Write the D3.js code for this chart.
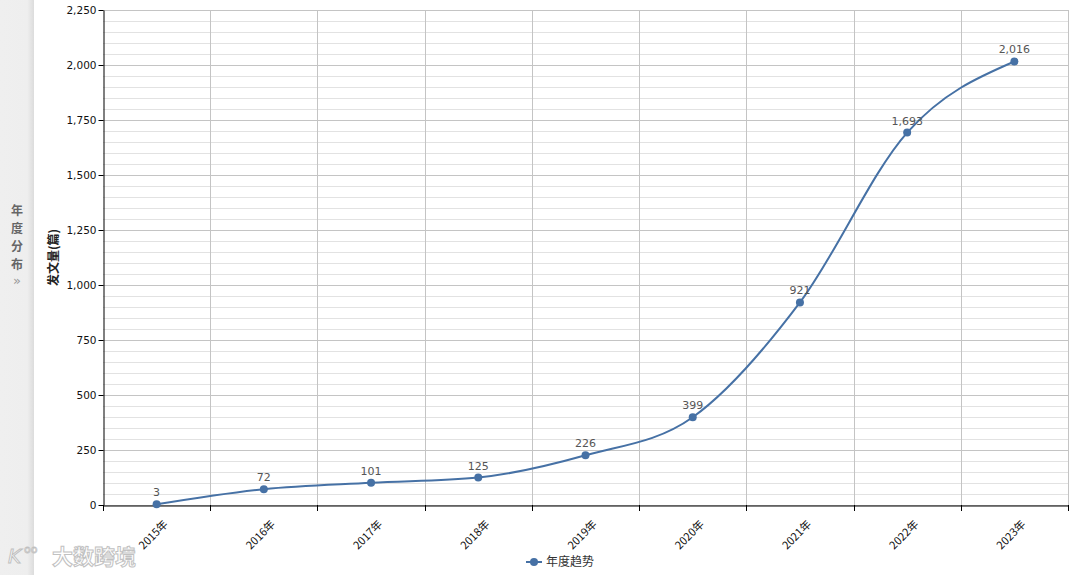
<!DOCTYPE html>
<html>
<head>
<meta charset="utf-8">
<script src="https://cdn.jsdelivr.net/npm/d3@7"></script>
<style>
  body { margin: 0; background: #fff; }
  svg { display: block; }
</style>
</head>
<body>
<div id="chart"></div>
<script>
// data
var years = ["2015年", "2016年", "2017年", "2018年", "2019年", "2020年", "2021年", "2022年", "2023年"];
var counts = [3, 72, 101, 125, 226, 399, 921, 1693, 2016];
var yTicks = [0, 250, 500, 750, 1000, 1250, 1500, 1750, 2000, 2250];
var seriesName = "年度趋势";
var yTitle = "发文量(篇)";
var sideTitle = ["年", "度", "分", "布"];

var width = 1069, height = 575;
var lineColor = "#4671a5";
var cjk = "'Noto Sans CJK SC', 'DejaVu Sans', sans-serif";
var num = "'DejaVu Sans', sans-serif";

var svg = d3.select("#chart").append("svg")
  .attr("width", width)
  .attr("height", height);

var defs = svg.append("defs");
var grad = defs.append("linearGradient").attr("id", "shade")
  .attr("x1", "0").attr("x2", "1").attr("y1", "0").attr("y2", "0");
grad.append("stop").attr("offset", "0").attr("stop-color", "#efefef");
grad.append("stop").attr("offset", "0.8").attr("stop-color", "#eeeeee");
grad.append("stop").attr("offset", "1").attr("stop-color", "#dcdcdc");

// left side panel
svg.append("rect").attr("x", 0).attr("y", 0).attr("width", 34).attr("height", height)
  .attr("fill", "url(#shade)");
svg.append("g").selectAll("text").data(sideTitle).enter().append("text")
  .attr("x", 17)
  .attr("y", function(d, i) { return 215 + i * 18; })
  .attr("text-anchor", "middle")
  .attr("font-family", cjk).attr("font-size", 12).attr("font-weight", "bold")
  .attr("fill", "#666")
  .text(function(d) { return d; });
svg.append("text").attr("x", 17).attr("y", 285).attr("text-anchor", "middle")
  .attr("font-family", num).attr("font-size", 13).attr("fill", "#999").text("»");

var margin = {left: 103, top: 10, right: 1068, bottom: 505};

var x = d3.scaleBand().domain(years).range([margin.left, margin.right]);
var y = d3.scaleLinear().domain([0, 2250]).range([margin.bottom, margin.top]);

// minor grid
var minor = d3.range(0, 2251, 50).filter(function(v) { return v % 250 !== 0; });
svg.append("g").selectAll("line").data(minor).enter().append("line")
  .attr("x1", margin.left).attr("x2", margin.right)
  .attr("y1", function(d) { return y(d) + 0.5; })
  .attr("y2", function(d) { return y(d) + 0.5; })
  .attr("stroke", "#e2e2e2");

// major grid
svg.append("g").selectAll("line").data(yTicks).enter().append("line")
  .attr("x1", margin.left).attr("x2", margin.right)
  .attr("y1", function(d) { return Math.round(y(d)) + 0.5; })
  .attr("y2", function(d) { return Math.round(y(d)) + 0.5; })
  .attr("stroke", "#c4c4c4");

// vertical grid at band edges
var edges = years.map(function(d) { return x(d); }).concat([margin.right]);
svg.append("g").selectAll("line").data(edges.slice(1)).enter().append("line")
  .attr("x1", function(d) { return Math.round(d) + 0.5; })
  .attr("x2", function(d) { return Math.round(d) + 0.5; })
  .attr("y1", margin.top).attr("y2", margin.bottom)
  .attr("stroke", "#c4c4c4");

// y axis
var yAxis = svg.append("g")
  .attr("transform", "translate(" + (margin.left + 0.5) + ",0)")
  .call(d3.axisLeft(y).tickValues(yTicks).tickSize(5).tickSizeOuter(0)
    .tickFormat(d3.format(",")));
yAxis.select(".domain").attr("stroke", "#000");
yAxis.selectAll(".tick line").attr("stroke", "#000");
yAxis.selectAll("text").attr("font-family", num).attr("font-size", 10.5)
  .attr("fill", "#111").attr("x", -7);

// x axis
var xAxis = svg.append("g")
  .attr("transform", "translate(0," + (margin.bottom + 0.5) + ")")
  .call(d3.axisBottom(x).tickSize(0).tickSizeOuter(0).tickFormat(""));
xAxis.select(".domain").attr("stroke", "#000");
svg.append("g").selectAll("line").data(edges).enter().append("line")
  .attr("x1", function(d) { return Math.round(d) + 0.5; })
  .attr("x2", function(d) { return Math.round(d) + 0.5; })
  .attr("y1", margin.bottom).attr("y2", margin.bottom + 6)
  .attr("stroke", "#000");
svg.append("g").selectAll("text").data(years).enter().append("text")
  .attr("transform", function(d) {
    return "translate(" + (x(d) + x.bandwidth() / 2 + 12) + "," + (margin.bottom + 20) + ") rotate(-45)";
  })
  .attr("text-anchor", "end")
  .attr("font-family", cjk).attr("font-size", 11).attr("fill", "#111")
  .text(function(d) { return d; });

// y title
svg.append("text")
  .attr("transform", "translate(58," + ((margin.top + margin.bottom) / 2) + ") rotate(-90)")
  .attr("text-anchor", "middle")
  .attr("font-family", cjk).attr("font-size", 12).attr("font-weight", "bold")
  .attr("fill", "#222")
  .text(yTitle);

// series
var pts = years.map(function(d, i) { return {year: d, value: counts[i]}; });
var line = d3.line()
  .x(function(d) { return x(d.year) + x.bandwidth() / 2; })
  .y(function(d) { return y(d.value); })
  .curve(d3.curveMonotoneX);

svg.append("path").datum(pts)
  .attr("d", line)
  .attr("fill", "none")
  .attr("stroke", lineColor)
  .attr("stroke-width", 2);

svg.append("g").selectAll("circle").data(pts).enter().append("circle")
  .attr("cx", function(d) { return x(d.year) + x.bandwidth() / 2; })
  .attr("cy", function(d) { return y(d.value); })
  .attr("r", 4)
  .attr("fill", lineColor);

svg.append("g").selectAll("text").data(pts).enter().append("text")
  .attr("x", function(d) { return x(d.year) + x.bandwidth() / 2; })
  .attr("y", function(d) { return y(d.value) - 8; })
  .attr("text-anchor", "middle")
  .attr("font-family", num).attr("font-size", 11)
  .attr("fill", "#555")
  .text(function(d) { return d3.format(",")(d.value); });

// legend
var lg = svg.append("g").attr("transform", "translate(526,562)");
lg.append("line").attr("x1", 0).attr("x2", 16).attr("y1", 0).attr("y2", 0)
  .attr("stroke", lineColor).attr("stroke-width", 2);
lg.append("circle").attr("cx", 8).attr("cy", 0).attr("r", 4).attr("fill", lineColor);
lg.append("text").attr("x", 20).attr("y", 4)
  .attr("font-family", cjk).attr("font-size", 12).attr("fill", "#333")
  .text(seriesName);

// watermark
var wm = svg.append("g").attr("opacity", 0.9);
wm.append("text").attr("x", 8).attr("y", 563)
  .attr("font-family", num).attr("font-size", 20).attr("font-style", "italic")
  .attr("fill", "#fff").attr("stroke", "#bbb").attr("stroke-width", 1)
  .text("K");
wm.append("text").attr("x", 24).attr("y", 553)
  .attr("font-family", num).attr("font-size", 11)
  .attr("fill", "#fff").attr("stroke", "#bbb").attr("stroke-width", 0.8)
  .text("oo");
wm.append("text").attr("x", 52).attr("y", 564)
  .attr("font-family", cjk).attr("font-size", 21).attr("font-weight", "bold")
  .attr("fill", "#fff").attr("stroke", "#bbb").attr("stroke-width", 1)
  .text("大数跨境");
</script>
</body>
</html>
